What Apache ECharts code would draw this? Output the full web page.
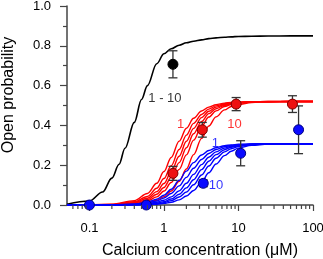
<!DOCTYPE html>
<html><head><meta charset="utf-8">
<script src="https://cdn.jsdelivr.net/npm/echarts@6/dist/echarts.min.js"></script>
<style>html,body{margin:0;padding:0;background:#fff}#c{width:323px;height:259px}</style>
</head><body><div id="c"></div>
<script>
// ---------- data ----------
const concGrid = [0.05,0.1,0.2,0.4,0.6,0.8,1,1.25,1.6,2,2.5,3.2,4,5,6.5,8,10,15,25,50,100];
const concBlack = [0.05,0.1,0.15,0.2,0.25,0.3,0.4,0.5,0.6,0.8,1,1.25,1.6,2,2.5,3.2,4,5,6.5,8,10,15,25,50,100];
const blackCurve = [0.004,0.02,0.065,0.135,0.205,0.285,0.415,0.53,0.6,0.71,0.76,0.785,0.803,0.815,0.823,0.83,0.836,0.84,0.843,0.845,0.847,0.848,0.849,0.85,0.85];
const redCurve1 = [0,0.001,0.004,0.022,0.058,0.109,0.168,0.239,0.321,0.386,0.436,0.472,0.492,0.504,0.512,0.515,0.517,0.519,0.520,0.520,0.520];
const redCurve2 = [0,0,0.003,0.016,0.043,0.084,0.133,0.197,0.279,0.351,0.410,0.455,0.482,0.498,0.509,0.513,0.516,0.519,0.520,0.520,0.520];
const redCurve3 = [0,0,0.002,0.012,0.034,0.067,0.108,0.167,0.245,0.320,0.385,0.439,0.471,0.492,0.505,0.511,0.515,0.518,0.519,0.520,0.520];
const redCurve4 = [0,0,0.002,0.010,0.027,0.054,0.088,0.139,0.213,0.288,0.358,0.420,0.459,0.484,0.501,0.509,0.514,0.518,0.519,0.520,0.520];
const redCurve5 = [0,0,0.001,0.007,0.020,0.041,0.070,0.113,0.179,0.252,0.326,0.396,0.442,0.473,0.495,0.505,0.512,0.517,0.519,0.520,0.520];
const redCurve6 = [0,0,0.001,0.004,0.012,0.024,0.042,0.070,0.119,0.181,0.253,0.335,0.397,0.443,0.478,0.495,0.505,0.515,0.519,0.520,0.520];
const blueCurve1 = [0,0,0.001,0.005,0.014,0.029,0.049,0.079,0.124,0.170,0.213,0.251,0.274,0.288,0.298,0.302,0.305,0.307,0.308,0.308,0.308];
const blueCurve2 = [0,0,0,0.003,0.010,0.020,0.035,0.058,0.096,0.139,0.185,0.229,0.259,0.279,0.293,0.299,0.303,0.306,0.308,0.308,0.308];
const blueCurve3 = [0,0,0,0.002,0.006,0.014,0.024,0.041,0.071,0.109,0.154,0.203,0.240,0.267,0.286,0.295,0.301,0.306,0.307,0.308,0.308];
const blueCurve4 = [0,0,0,0.002,0.005,0.010,0.017,0.030,0.054,0.086,0.127,0.178,0.220,0.253,0.278,0.290,0.298,0.305,0.307,0.308,0.308];
const blueCurve5 = [0,0,0,0.001,0.003,0.007,0.012,0.022,0.040,0.065,0.102,0.151,0.196,0.235,0.267,0.283,0.294,0.303,0.307,0.308,0.308];
const blueCurve6 = [0,0,0,0.001,0.002,0.004,0.008,0.014,0.026,0.045,0.073,0.116,0.162,0.206,0.248,0.270,0.286,0.300,0.306,0.308,0.308];

const blackPtConc = [1.32];
const blackPtProb = [0.707];
const blackPtErr  = [0.068];
const redPtConc = [1.32, 3.27, 9.3, 53];
const redPtProb = [0.159, 0.378, 0.507, 0.507];
const redPtErr  = [0.035, 0.037, 0.033, 0.042];
const bluePtConc = [0.1, 0.58, 3.37, 10.7, 64];
const bluePtProb = [0, 0, 0.109, 0.26, 0.378];
const bluePtErr  = [0, 0, 0.017, 0.063, 0.12];

const labelTexts = ['1 - 10', '1', '10', '1', '10'];
const labelConc  = [1.03, 1.67, 8.84, 4.90, 4.98];
const labelProb  = [0.538, 0.407, 0.407, 0.31, 0.10];
const labelGroup = ['black', 'red', 'red', 'blue', 'blue'];

const xMajorTicks = ['0.1', '1', '10', '100'];
const xMinorTicks = [0.06,0.07,0.08,0.09,0.2,0.3,0.4,0.5,0.6,0.7,0.8,0.9,2,3,4,5,6,7,8,9,20,30,40,50,60,70,80,90];
const yTickLabels = ['0.0','0.2','0.4','0.6','0.8','1.0'];

// ---------- chart ----------
const FONT = 'Liberation Sans, Arial, sans-serif';
const AXIS = '#444';
const colors = {black: '#000000', red: '#ff0000', blue: '#0000ff'};
const chart = echarts.init(document.getElementById('c'), null, {renderer: 'canvas'});

function curveSeries(xs, ys, color, w) {
  return {
    type: 'line', data: xs.map((x, i) => [x, ys[i]]), showSymbol: false, symbol: 'none',
    smooth: 0.35, smoothMonotone: 'x', clip: false, silent: true,
    lineStyle: {color: color, width: w}, z: 2
  };
}
function errSeries(xs, ys, es) {
  return {
    type: 'custom', clip: false, silent: true, z: 3,
    data: xs.map((x, i) => [x, ys[i], es[i]]),
    renderItem: function (params, api) {
      const c = api.value(0), p = api.value(1), e = api.value(2);
      if (!e) return null;
      const t = api.coord([c, p + e]), b = api.coord([c, p - e]);
      const hw = 4.5;
      const st = {stroke: '#333', lineWidth: 1.3};
      return {type: 'group', children: [
        {type: 'line', shape: {x1: t[0], y1: t[1], x2: b[0], y2: b[1]}, style: st},
        {type: 'line', shape: {x1: t[0]-hw, y1: t[1], x2: t[0]+hw, y2: t[1]}, style: st},
        {type: 'line', shape: {x1: b[0]-hw, y1: b[1], x2: b[0]+hw, y2: b[1]}, style: st}
      ]};
    }
  };
}
function ptSeries(xs, ys, fill, border) {
  return {
    type: 'scatter', clip: false, silent: true, z: 4, symbol: 'circle', symbolSize: 10,
    data: xs.map((x, i) => [x, ys[i]]),
    itemStyle: {color: fill, borderColor: border, borderWidth: 1, opacity: 1}
  };
}

const series = [];
series.push(curveSeries(concBlack, blackCurve, '#000', 1.6));
[redCurve1, redCurve2, redCurve3, redCurve4, redCurve5, redCurve6].forEach(c => series.push(curveSeries(concGrid, c, colors.red, 1.4)));
[blueCurve1, blueCurve2, blueCurve3, blueCurve4, blueCurve5, blueCurve6].forEach(c => series.push(curveSeries(concGrid, c, colors.blue, 1.4)));
series.push(errSeries(blackPtConc, blackPtProb, blackPtErr));
series.push(errSeries(redPtConc, redPtProb, redPtErr));
series.push(errSeries(bluePtConc, bluePtProb, bluePtErr));
series.push(ptSeries(blackPtConc, blackPtProb, '#000', '#000'));
series.push(ptSeries(redPtConc, redPtProb, '#ee1111', '#7a0000'));
series.push(ptSeries(bluePtConc, bluePtProb, '#0a0aff', '#000080'));
series.push({
  type: 'custom', clip: false, silent: true, z: 5,
  data: xMinorTicks.map(v => [v, 0]),
  renderItem: function (params, api) {
    const p = api.coord([api.value(0), 0]);
    return {type: 'line', shape: {x1: p[0], y1: p[1], x2: p[0], y2: p[1] + 4},
      style: {stroke: AXIS, lineWidth: 1.2}};
  }
});
series.push({
  type: 'scatter', clip: false, silent: true, z: 6, symbolSize: 0,
  data: labelTexts.map((t, i) => ({value: [labelConc[i], labelProb[i]],
    label: {show: true, position: 'inside', formatter: t, color: colors[labelGroup[i]],
      fontFamily: FONT, fontSize: 13}}))
});

chart.setOption({
  animation: false,
  backgroundColor: '#fff',
  grid: {left: 67, right: 10, top: 6, bottom: 54, containLabel: false, outerBoundsMode: 'none'},
  xAxis: {
    type: 'log', min: 0.05, max: 100, logBase: 10,
    name: 'Calcium concentration (\u03bcM)', nameLocation: 'middle', nameGap: 38,
    nameTextStyle: {fontFamily: FONT, fontSize: 16, color: '#000', padding: [0, 0, 0, 20]},
    axisLine: {show: true, lineStyle: {color: AXIS, width: 1.5}},
    axisTick: {show: true, inside: false, length: 6, lineStyle: {color: AXIS, width: 1.2}},
    axisLabel: {show: true, margin: 17, fontFamily: FONT, fontSize: 13, color: '#000', showMinLabel: false,
      formatter: function (v) { const s = String(+v.toPrecision(3)); return xMajorTicks.indexOf(s) >= 0 ? s : ''; }},
    splitLine: {show: false}, minorTick: {show: false}
  },
  yAxis: {
    type: 'value', min: 0, max: 1, interval: 0.2,
    name: 'Open probability', nameLocation: 'middle', nameGap: 50,
    nameTextStyle: {fontFamily: FONT, fontSize: 16, color: '#000', padding: [0, 0, 0, 21]},
    axisLine: {show: true, lineStyle: {color: AXIS, width: 1.5}},
    axisTick: {show: true, inside: false, length: 7, lineStyle: {color: AXIS, width: 1.2}},
    minorTick: {show: true, splitNumber: 2, length: 4, lineStyle: {color: AXIS, width: 1.2}},
    axisLabel: {margin: 16, fontFamily: FONT, fontSize: 13, color: '#000',
      formatter: function (v) { return yTickLabels[Math.round(v / 0.2)]; }},
    splitLine: {show: false}
  },
  series: series
});
</script></body></html>
